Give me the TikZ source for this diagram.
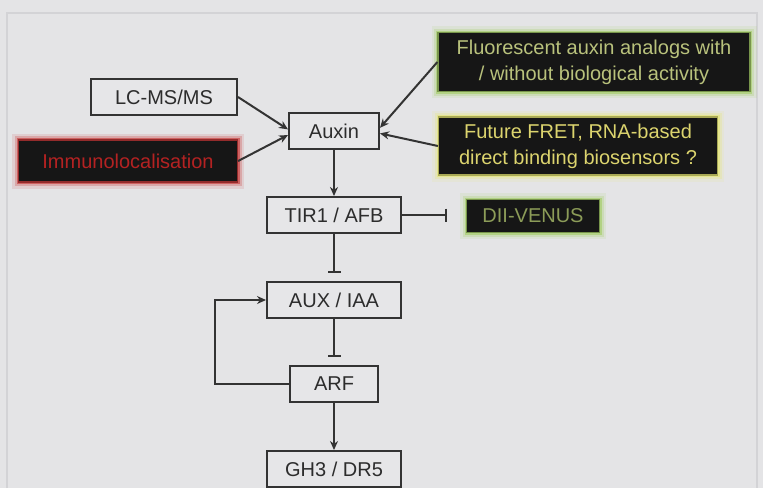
\documentclass[tikz,border=0pt]{standalone}
\usepackage{fontspec}
\setmainfont{Liberation Sans}
\usetikzlibrary{arrows.meta}

\definecolor{pagebg}{HTML}{E4E4E6}
\definecolor{frameline}{HTML}{D3D3D6}
\definecolor{boxline}{HTML}{333333}
\definecolor{boxfill}{HTML}{E6E6E8}
\definecolor{ink}{HTML}{2C2C2C}
\definecolor{boxdark}{HTML}{161616}
\definecolor{glowgreen}{HTML}{A2CC62}
\definecolor{glowyellow}{HTML}{E6E670}
\definecolor{glowred}{HTML}{C83434}
\definecolor{txtgreen}{HTML}{B9C27C}
\definecolor{txtyellow}{HTML}{DCD46E}
\definecolor{txtolive}{HTML}{8C9C58}
\definecolor{txtred}{HTML}{B42222}

\tikzset{
    box/.style={rectangle, draw=boxline, fill=boxfill, line width=2pt, inner sep=0pt, text=ink},
    darkbox/.style={rectangle, fill=boxdark, inner sep=0pt, align=center,
        preaction={draw=#1, line width=13pt, opacity=.12},
        preaction={draw=#1, line width=8pt, opacity=.25},
        preaction={draw=#1, line width=4pt, opacity=.6},
        draw=#1!70!boxdark, line width=1.2pt},
    act/.style={draw=boxline, line width=2pt, -{Stealth[length=9pt,width=8pt]}},
    inh/.style={draw=boxline, line width=2pt, -{Bar[width=13pt]}, shorten >=8pt}
}

\begin{document}
\begin{tikzpicture}[x=1pt, y=-1pt, font=\fontsize{20}{26}\selectfont]
    \fill[pagebg] (0,0) rectangle (763,488);
    \useasboundingbox (0,0) rectangle (763,488);
    \draw[frameline, line width=1.5pt] (7,488) -- (7,13) -- (757,13) -- (757,488);

    \node[box, minimum width=146pt, minimum height=36pt] (lcms) at (164,97) {LC-MS/MS};
    \node[darkbox=glowred, text=txtred, minimum width=219pt, minimum height=42pt] (immuno) at (128,161) {Immunolocalisation};
    \node[box, minimum width=90pt, minimum height=36pt] (auxin) at (334,131) {Auxin};
    \node[darkbox=glowgreen, text=txtgreen, minimum width=312pt, minimum height=59pt] (fluo) at (594,62) {Fluorescent auxin analogs with\\/ without biological activity};
    \node[darkbox=glowyellow, text=txtyellow, minimum width=279pt, minimum height=58pt] (fret) at (578,146) {Future FRET, RNA-based\\direct binding biosensors ?};
    \node[box, minimum width=134pt, minimum height=36pt] (tir) at (334,215) {TIR1 / AFB};
    \node[darkbox=glowgreen, text=txtolive, minimum width=133pt, minimum height=33pt] (dii) at (533,216) {DII-VENUS};
    \node[box, minimum width=134pt, minimum height=36pt] (aux) at (334,300) {AUX / IAA};
    \node[box, minimum width=88pt, minimum height=36pt] (arf) at (334,384) {ARF};
    \node[box, minimum width=134pt, minimum height=36pt] (gh) at (334,469) {GH3 / DR5};

    \draw[act] (lcms.east) -- (auxin.178);
    \draw[act] (immuno.east) -- (auxin.185);
    \draw[act] (fluo.west) -- (auxin.4);
    \draw[act] (fret.west) -- (auxin.357);
    \draw[act] (auxin) -- (tir);
    \draw[inh, shorten >=19pt] (tir.east) -- (tir.east -| dii.west);
    \draw[inh] (tir) -- (aux);
    \draw[inh] (aux) -- (arf);
    \draw[act] (arf) -- (gh);
    \draw[act] (arf.west) -- ++(-74,0) |- (aux.west);
\end{tikzpicture}
\end{document}
